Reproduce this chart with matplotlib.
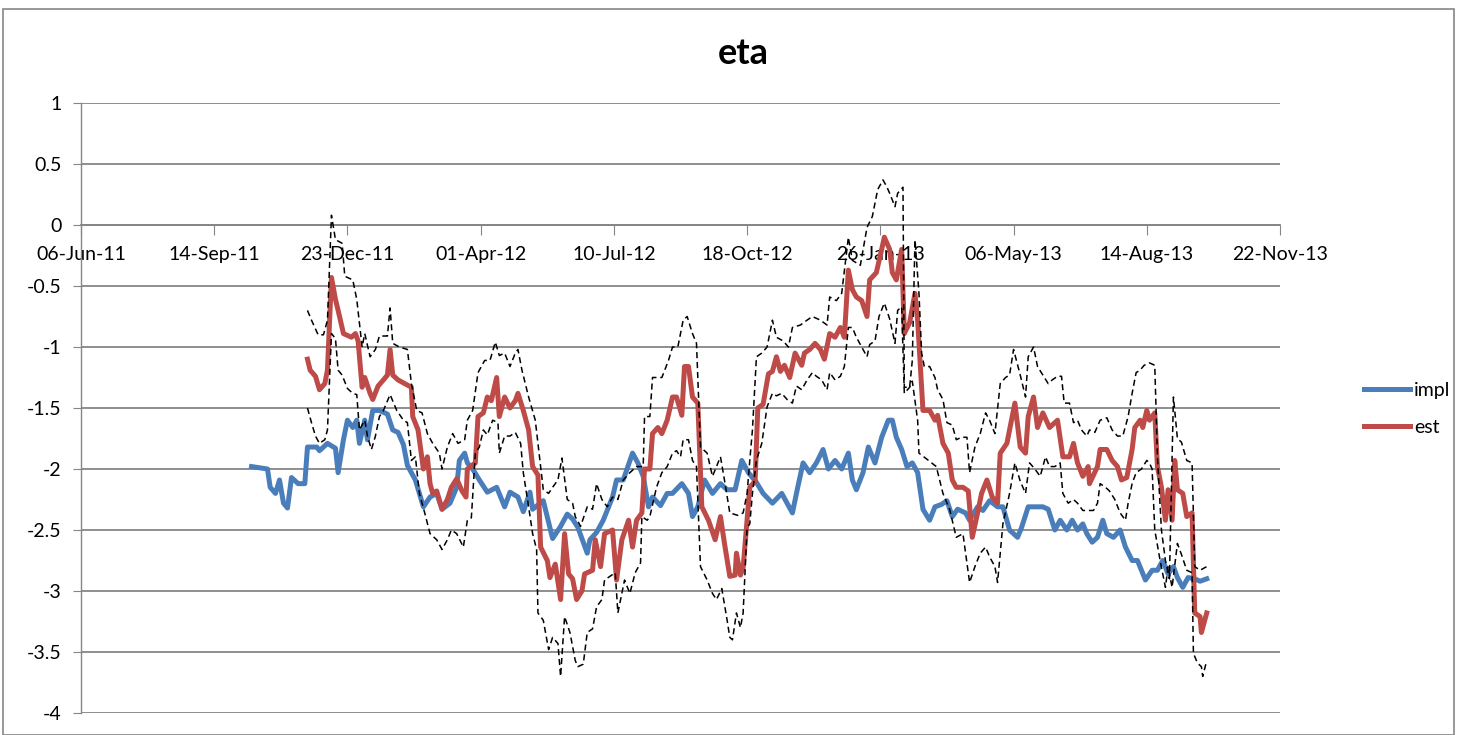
import pandas as pd
import matplotlib.pyplot as plt
import matplotlib.dates as mdates
from matplotlib.patches import Rectangle

plt.rcParams['font.family'] = ['Lato', 'DejaVu Sans']

start = pd.Timestamp('2011-06-06')

# impl series (days since 06-Jun-11, value)
impl_day = [128, 134, 140, 142, 146, 149, 152, 155, 158, 163,
            168, 170, 177, 179, 185, 191, 193, 197, 200, 204,
            207, 209, 213, 215, 219, 224, 230, 234, 238, 242,
            245, 251, 257, 262, 267, 271, 277, 282, 284, 288,
            290, 294, 299, 305, 312, 318, 322, 328, 332, 337,
            339, 347, 354, 360, 365, 369, 373, 380, 382, 387,
            392, 399, 402, 407, 414, 418, 422, 426, 429, 435,
            440, 444, 451, 456, 459, 463, 468, 474, 480, 485,
            491, 496, 501, 507, 512, 519, 526, 534, 538, 542,
            547, 552, 557, 561, 566, 571, 576, 579, 582, 587,
            591, 596, 601, 606, 609, 612, 616, 620, 624, 628,
            632, 637, 641, 646, 650, 654, 658, 664, 667, 673,
            677, 682, 688, 692, 697, 703, 706, 711, 718, 722,
            726, 731, 735, 740, 744, 748, 752, 755, 759, 763,
            767, 770, 775, 780, 784, 789, 793, 799, 804, 808,
            812, 816, 820, 823, 827, 831, 836, 840, 845]
impl_val = [-1.98, -1.99, -2.0, -2.15, -2.2, -2.09, -2.28, -2.32, -2.07, -2.12,
            -2.12, -1.82, -1.82, -1.85, -1.79, -1.83, -2.03, -1.76, -1.6, -1.66,
            -1.6, -1.79, -1.6, -1.76, -1.52, -1.52, -1.55, -1.68, -1.7, -1.8,
            -1.97, -2.09, -2.31, -2.23, -2.2, -2.33, -2.28, -2.15, -1.93, -1.87,
            -1.95, -2.0, -2.09, -2.19, -2.15, -2.31, -2.19, -2.23, -2.35, -2.19,
            -2.33, -2.26, -2.57, -2.47, -2.37, -2.41, -2.48, -2.69, -2.58, -2.52,
            -2.42, -2.23, -2.09, -2.09, -1.87, -1.95, -2.06, -2.31, -2.23, -2.3,
            -2.2, -2.2, -2.12, -2.2, -2.39, -2.31, -2.09, -2.2, -2.12, -2.17,
            -2.17, -1.93, -2.03, -2.11, -2.2, -2.28, -2.2, -2.36, -2.15, -1.95,
            -2.03, -1.95, -1.84, -2.0, -1.93, -2.0, -1.87, -2.09, -2.17, -2.03,
            -1.82, -1.95, -1.74, -1.6, -1.6, -1.74, -1.84, -1.98, -1.95, -2.03,
            -2.33, -2.42, -2.31, -2.29, -2.26, -2.39, -2.33, -2.36, -2.42, -2.31,
            -2.34, -2.26, -2.31, -2.31, -2.5, -2.56, -2.48, -2.31, -2.31, -2.31,
            -2.33, -2.5, -2.42, -2.5, -2.42, -2.5, -2.45, -2.53, -2.6, -2.56,
            -2.42, -2.53, -2.56, -2.5, -2.64, -2.75, -2.75, -2.91, -2.83, -2.83,
            -2.75, -2.86, -2.8, -2.89, -2.97, -2.89, -2.9, -2.92, -2.9]

# est series
est_day = [170, 172, 176, 179, 183, 185, 188, 191, 193, 197,
           203, 206, 208, 211, 213, 217, 219, 223, 227, 230,
           232, 234, 238, 243, 248, 249, 253, 257, 260, 262,
           264, 267, 271, 275, 278, 282, 286, 289, 290, 296,
           298, 302, 305, 308, 312, 314, 318, 322, 326, 328,
           332, 336, 339, 343, 345, 350, 352, 356, 360, 363,
           366, 369, 372, 376, 378, 384, 386, 390, 393, 399,
           402, 406, 411, 414, 417, 421, 423, 427, 429, 433,
           436, 440, 444, 447, 451, 453, 456, 459, 463, 466,
           471, 476, 480, 483, 487, 491, 492, 495, 497, 500,
           502, 506, 508, 512, 516, 519, 522, 525, 528, 532,
           536, 541, 543, 547, 551, 555, 558, 562, 566, 570,
           573, 576, 579, 582, 586, 590, 592, 597, 601, 603,
           607, 609, 612, 616, 618, 622, 626, 628, 632, 637,
           641, 643, 647, 651, 654, 657, 662, 666, 669, 673,
           676, 680, 684, 688, 690, 695, 699, 701, 705, 709,
           711, 715, 718, 722, 727, 733, 737, 742, 745, 748,
           752, 756, 757, 763, 765, 770, 774, 778, 781, 785,
           789, 791, 795, 797, 800, 802, 806, 808, 811, 814,
           816, 819, 821, 823, 827, 830, 834, 836, 840, 841, 845]
est_val = [-1.1, -1.19, -1.24, -1.35, -1.3, -1.19, -0.43, -0.61, -0.7, -0.89,
           -0.92, -0.89, -0.95, -1.33, -1.25, -1.38, -1.43, -1.32, -1.27, -1.23,
           -1.02, -1.23, -1.27, -1.3, -1.33, -1.57, -1.68, -2.0, -1.9, -2.12,
           -2.2, -2.18, -2.33, -2.25, -2.15, -2.08, -2.18, -2.23, -2.0, -1.95,
           -1.57, -1.54, -1.41, -1.44, -1.25, -1.57, -1.41, -1.5, -1.44, -1.38,
           -1.52, -1.68, -1.98, -2.05, -2.64, -2.75, -2.89, -2.78, -3.07, -2.53,
           -2.86, -2.9, -3.07, -3.0, -2.86, -2.83, -2.58, -2.8, -2.53, -2.5,
           -2.91, -2.58, -2.42, -2.64, -2.42, -2.36, -2.0, -2.0, -1.71, -1.66,
           -1.71, -1.6, -1.41, -1.41, -1.56, -1.16, -1.16, -1.41, -1.46, -2.31,
           -2.42, -2.58, -2.39, -2.61, -2.88, -2.87, -2.69, -2.87, -2.81, -2.42,
           -2.15, -2.1, -1.5, -1.47, -1.22, -1.2, -1.08, -1.2, -1.15, -1.25,
           -1.05, -1.15, -1.05, -1.02, -0.97, -1.02, -1.1, -0.89, -0.92, -0.84,
           -0.92, -0.37, -0.53, -0.59, -0.62, -0.75, -0.45, -0.39, -0.2, -0.1,
           -0.2, -0.39, -0.45, -0.2, -0.89, -0.8, -0.56, -0.78, -1.52, -1.52,
           -1.6, -1.56, -1.79, -1.87, -2.09, -2.15, -2.15, -2.18, -2.56, -2.36,
           -2.2, -2.09, -2.23, -2.28, -1.87, -1.79, -1.57, -1.46, -1.82, -1.87,
           -1.57, -1.41, -1.66, -1.54, -1.66, -1.6, -1.9, -1.9, -1.79, -1.95,
           -2.06, -1.98, -2.12, -1.98, -1.84, -1.84, -1.93, -1.98, -2.09, -2.07,
           -1.84, -1.66, -1.6, -1.66, -1.52, -1.6, -1.54, -1.98, -2.15, -2.42,
           -2.17, -2.42, -1.93, -2.17, -2.2, -2.39, -2.36, -3.18, -3.21, -3.34, -3.18]

# upper band
up_day = [170, 173, 178, 182, 185, 188, 191, 196, 198, 204,
          207, 211, 213, 217, 221, 224, 230, 232, 234, 239,
          245, 248, 252, 256, 260, 264, 269, 271, 275, 279,
          283, 288, 290, 294, 298, 303, 307, 311, 314, 318,
          322, 326, 328, 331, 336, 341, 345, 347, 351, 354,
          358, 361, 365, 369, 371, 375, 380, 384, 387, 391,
          395, 399, 403, 407, 412, 417, 422, 423, 427, 429,
          436, 441, 444, 448, 452, 455, 459, 462, 465, 470,
          474, 480, 483, 487, 493, 497, 500, 502, 504, 507,
          511, 515, 519, 522, 527, 531, 534, 540, 545, 549,
          555, 560, 562, 567, 571, 576, 579, 585, 590, 594,
          598, 602, 605, 607, 611, 613, 617, 618, 622, 624,
          626, 629, 631, 633, 637, 641, 643, 647, 650, 654,
          657, 661, 665, 667, 671, 675, 679, 682, 686, 690,
          694, 697, 700, 705, 709, 711, 715, 718, 722, 726,
          729, 733, 736, 738, 742, 745, 748, 751, 755, 757,
          761, 765, 770, 774, 778, 782, 786, 789, 792, 795,
          798, 802, 806, 808, 811, 814, 817, 820, 823, 826,
          830, 834, 836, 840, 845]
up_val = [-0.7, -0.78, -0.9, -0.9, -0.78, 0.08, -0.12, -0.15, -0.42, -0.45,
          -0.61, -1.0, -0.89, -1.08, -1.02, -0.91, -0.91, -0.68, -0.97, -1.0,
          -1.02, -1.3, -1.52, -1.54, -1.71, -1.79, -1.87, -2.0, -1.82, -1.71,
          -1.79, -1.76, -1.6, -1.52, -1.21, -1.11, -1.11, -0.96, -1.07, -1.05,
          -1.16, -1.05, -1.02, -1.19, -1.41, -1.6, -1.98, -2.17, -2.2, -2.15,
          -2.09, -1.91, -2.25, -2.28, -2.39, -2.47, -2.31, -2.33, -2.12, -2.25,
          -2.31, -2.23, -2.25, -2.09, -2.03, -1.98, -1.98, -1.57, -1.57, -1.25,
          -1.25, -1.11, -1.0, -1.0, -0.78, -0.75, -0.89, -0.97, -1.82, -1.87,
          -2.06, -1.9, -2.09, -2.36, -2.38, -2.36, -2.2, -1.93, -1.68, -1.08,
          -1.05, -1.0, -0.78, -0.92, -0.95, -1.0, -0.84, -0.82, -0.78, -0.75,
          -0.78, -0.82, -0.59, -0.62, -0.56, -0.1, -0.29, -0.33, -0.02, 0.07,
          0.29, 0.37, 0.31, 0.26, 0.15, 0.26, 0.31, -1.33, -1.33, -1.11,
          -0.12, -0.56, -1.05, -1.16, -1.16, -1.25, -1.35, -1.43, -1.62, -1.64,
          -1.76, -1.74, -1.74, -2.03, -1.82, -1.71, -1.54, -1.6, -1.71, -1.3,
          -1.25, -1.23, -1.02, -1.23, -1.41, -1.08, -1.0, -1.16, -1.23, -1.3,
          -1.27, -1.24, -1.24, -1.46, -1.46, -1.62, -1.6, -1.68, -1.73, -1.68,
          -1.7, -1.6, -1.58, -1.68, -1.73, -1.73, -1.57, -1.38, -1.21, -1.19,
          -1.15, -1.13, -1.15, -1.9, -2.5, -2.75, -2.9, -1.41, -1.75, -1.78,
          -1.93, -1.95, -2.8, -2.83, -2.8]

# lower band
lo_day = [170, 173, 176, 179, 183, 185, 188, 191, 193, 196,
          200, 204, 207, 209, 213, 215, 218, 221, 224, 227,
          232, 237, 242, 245, 248, 251, 254, 258, 262, 267,
          271, 275, 278, 282, 287, 290, 293, 296, 299, 302,
          305, 309, 313, 314, 318, 322, 326, 330, 332, 336,
          339, 342, 343, 347, 351, 354, 358, 360, 363, 367,
          371, 373, 377, 380, 384, 387, 391, 393, 397, 401,
          403, 406, 408, 412, 416, 420, 421, 425, 427, 432,
          436, 440, 444, 447, 450, 452, 456, 459, 462, 465,
          470, 474, 477, 481, 485, 487, 489, 492, 495, 497,
          500, 502, 504, 507, 511, 515, 519, 522, 526, 530,
          534, 537, 541, 545, 549, 552, 556, 560, 562, 566,
          570, 573, 576, 579, 582, 586, 590, 592, 596, 599,
          603, 607, 611, 613, 616, 618, 622, 624, 628, 629,
          635, 642, 647, 652, 657, 662, 667, 671, 675, 679,
          682, 686, 688, 692, 697, 701, 705, 709, 712, 716,
          720, 724, 727, 731, 735, 737, 741, 745, 748, 752,
          756, 760, 763, 765, 769, 772, 776, 780, 784, 786,
          789, 792, 796, 800, 802, 804, 806, 810, 814, 816,
          819, 823, 826, 830, 834, 835, 838, 841, 842, 845]
lo_val = [-1.5, -1.62, -1.73, -1.79, -1.76, -1.68, -0.89, -0.93, -1.19, -1.23,
          -1.34, -1.38, -1.39, -1.68, -1.6, -1.73, -1.84, -1.73, -1.57, -1.52,
          -1.39, -1.52, -1.6, -1.62, -1.93, -1.9, -2.2, -2.36, -2.53, -2.58,
          -2.66, -2.58, -2.5, -2.53, -2.64, -2.42, -2.4, -1.87, -1.82, -1.68,
          -1.72, -1.6, -1.62, -1.87, -1.73, -1.73, -1.7, -1.79, -2.03, -2.31,
          -2.53, -2.66, -3.18, -3.24, -3.48, -3.38, -3.43, -3.7, -3.21, -3.34,
          -3.57, -3.62, -3.6, -3.34, -3.31, -3.13, -3.07, -2.91, -2.88, -2.85,
          -3.18, -3.02, -2.91, -3.02, -2.85, -2.77, -2.39, -2.42, -2.39, -2.15,
          -2.03, -1.98, -1.87, -1.85, -1.9, -1.76, -1.76, -1.93, -1.98, -2.8,
          -2.91, -3.02, -3.07, -2.98, -3.24, -3.38, -3.4, -3.18, -3.3, -3.18,
          -2.48, -2.45, -2.2, -1.93, -1.79, -1.49, -1.38, -1.4, -1.38, -1.43,
          -1.46, -1.32, -1.35, -1.27, -1.21, -1.24, -1.27, -1.35, -1.21, -1.27,
          -1.24, -1.16, -0.84, -0.84, -0.92, -1.0, -1.08, -0.98, -0.95, -0.75,
          -0.64, -0.77, -0.97, -0.7, -0.67, -1.38, -1.33, -1.28, -1.6, -1.87,
          -1.92, -1.98, -2.2, -2.33, -2.56, -2.53, -2.93, -2.8, -2.69, -2.64,
          -2.72, -2.8, -2.93, -2.45, -2.2, -1.95, -2.1, -2.2, -1.95, -2.0,
          -2.06, -1.9, -1.98, -1.98, -1.95, -2.2, -2.28, -2.25, -2.28, -2.34,
          -2.34, -2.34, -2.28, -2.12, -2.15, -2.18, -2.25, -2.36, -2.42, -2.28,
          -2.12, -2.03, -2.0, -1.93, -1.95, -2.0, -2.5, -2.75, -2.97, -2.8,
          -2.97, -2.61, -2.7, -2.83, -2.85, -3.51, -3.59, -3.62, -3.7, -3.57]


def to_dates(days):
    return start + pd.to_timedelta(days, unit='D')


fig = plt.figure(figsize=(14.57, 7.35), dpi=100)
ax = fig.add_axes([81 / 1457, 1 - 713 / 735, (1280 - 81) / 1457, (713 - 103) / 735])

grid_col = '#868686'
ax.plot(to_dates(impl_day), impl_val, color='#4A7EBB', lw=3.6, label='impl', zorder=3)
ax.plot(to_dates(est_day), est_val, color='#BE4B48', lw=3.6, label='est', zorder=3)
ax.plot(to_dates(up_day), up_val, color='black', lw=1.1, ls=(0, (4, 2.5)), zorder=4)
ax.plot(to_dates(lo_day), lo_val, color='black', lw=1.1, ls=(0, (4, 2.5)), zorder=4)

ax.set_ylim(-4, 1)
ax.set_yticks([1, 0.5, 0, -0.5, -1, -1.5, -2, -2.5, -3, -3.5, -4])
ax.set_yticklabels(['1', '0.5', '0', '-0.5', '-1', '-1.5', '-2', '-2.5', '-3', '-3.5', '-4'])
ax.yaxis.grid(True, color=grid_col, lw=1.3)
ax.set_axisbelow(True)

xticks = pd.date_range(start, periods=10, freq='100D')
ax.set_xlim(xticks[0], xticks[-1])
ax.set_xticks(xticks)
ax.xaxis.set_major_formatter(mdates.DateFormatter('%d-%b-%y'))

for s in ['top', 'right']:
    ax.spines[s].set_visible(False)
ax.spines['left'].set_color(grid_col)
ax.spines['left'].set_linewidth(1.0)
ax.spines['bottom'].set_position(('data', 0))
ax.spines['bottom'].set_color(grid_col)
ax.spines['bottom'].set_linewidth(1.3)

ax.tick_params(axis='x', direction='out', length=7, color=grid_col, labelsize=14, pad=8)
ax.tick_params(axis='y', direction='out', length=6, color=grid_col, labelsize=14, pad=8)

fig.text(743 / 1457, 1 - 53 / 735, 'eta', ha='center', va='center', fontsize=26, fontweight='bold')

fig.legend(loc='center left', bbox_to_anchor=(1352 / 1457, 1 - 409 / 735), frameon=False,
           fontsize=14, handlelength=2.4, labelspacing=1.0, handletextpad=0.2, borderpad=0.1)

fig.patches.append(Rectangle((3 / 1457, 0), 1 - 6 / 1457, 1 - 9 / 735, transform=fig.transFigure,
                             fill=False, edgecolor='#868686', lw=1.2))

fig.savefig('out.png', dpi=100)
